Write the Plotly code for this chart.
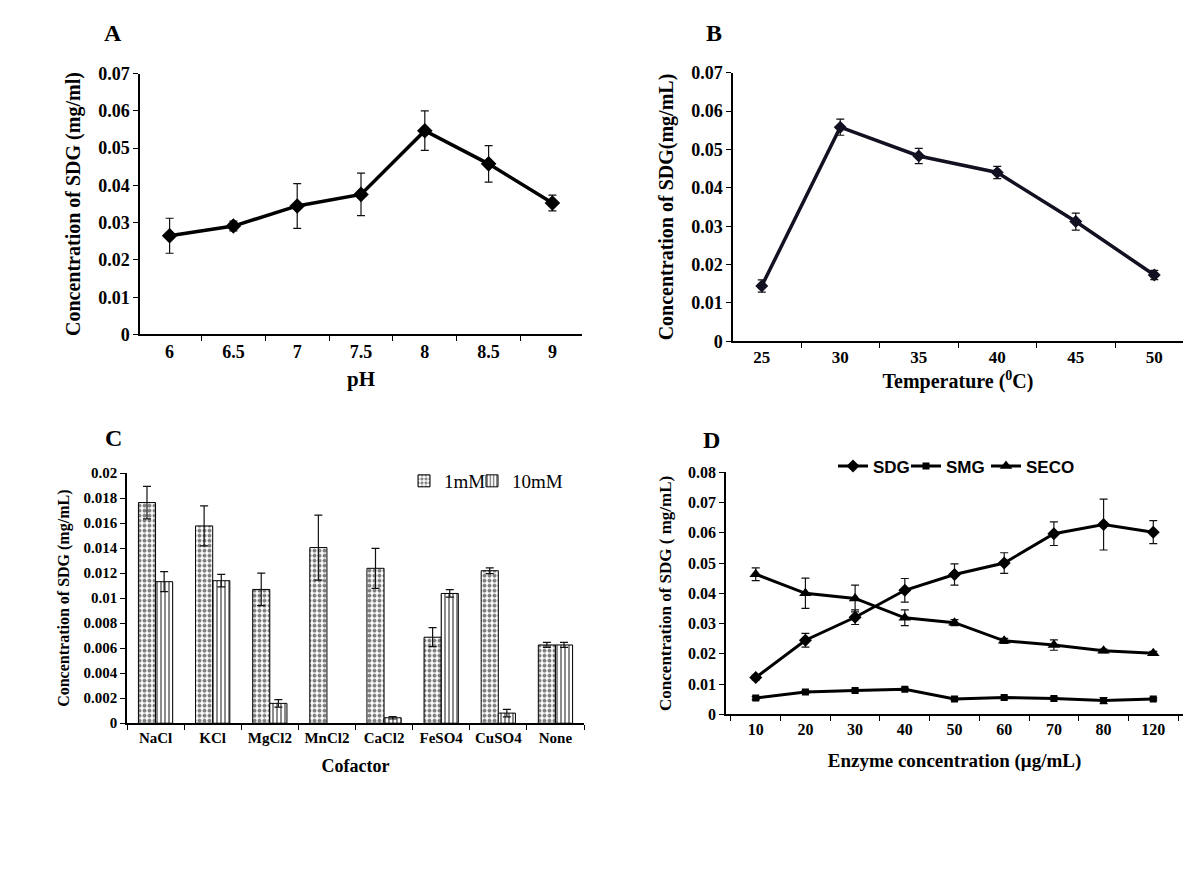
import plotly.graph_objects as go

# A: pH
ph_labels = ["6", "6.5", "7", "7.5", "8", "8.5", "9"]
ph_sdg = [0.0265, 0.0291, 0.0345, 0.0376, 0.0547, 0.0458, 0.0353]
ph_err = [0.0047, 0.0013, 0.0060, 0.0057, 0.0053, 0.0049, 0.0021]

# B: temperature
temp_labels = ["25", "30", "35", "40", "45", "50"]
temp_sdg = [0.0144, 0.0558, 0.0483, 0.0440, 0.0312, 0.0173]
temp_err = [0.0016, 0.0021, 0.0020, 0.0016, 0.0022, 0.0012]

# C: cofactors
cofactors = ["NaCl", "KCl", "MgCl2", "MnCl2", "CaCl2", "FeSO4", "CuSO4", "None"]
mm1 = [0.01765, 0.01578, 0.0107, 0.01405, 0.01239, 0.00688, 0.0122, 0.00626]
mm1_err = [0.0013, 0.0016, 0.0013, 0.0026, 0.0016, 0.00076, 0.00023, 0.0002]
mm10 = [0.01132, 0.0114, 0.00159, None, 0.00044, 0.01038, 0.00081, 0.00626]
mm10_err = [0.0008, 0.0005, 0.0003, 0, 0.0001, 0.0003, 0.0003, 0.0002]

# D: enzyme concentration
enzyme = ["10", "20", "30", "40", "50", "60", "70", "80", "120"]
sdg = [0.0122, 0.0245, 0.0321, 0.0410, 0.0462, 0.0500, 0.0597, 0.0627, 0.0602]
sdg_err = [0.0008, 0.0023, 0.0024, 0.0039, 0.0035, 0.0034, 0.0039, 0.0084, 0.0038]
smg = [0.0054, 0.0074, 0.0079, 0.0083, 0.0051, 0.0056, 0.0053, 0.0046, 0.0051]
smg_err = [0.0005, 0.0004, 0.0004, 0.0004, 0.0004, 0.0004, 0.0004, 0.0010, 0.0004]
seco = [0.0463, 0.0400, 0.0383, 0.0319, 0.0303, 0.0243, 0.0229, 0.0210, 0.0202]
seco_err = [0.0021, 0.0050, 0.0044, 0.0026, 0.0010, 0.0008, 0.0017, 0.0006, 0.0006]

# the page body has an 8px margin, so the figure is a bit smaller than the window
OFF = 8
W, H = 1200 - 2 * OFF, 877 - 2 * OFF
SERIF = "Liberation Serif"


def err(arr):
    return dict(type="data", array=arr, visible=True, color="#111", thickness=1.2, width=4)


def fx(px):
    return (px - OFF) / W


def fy(py):
    return 1 - (py - OFF) / H


def px_x(a, b):
    return [fx(a), fx(b)]


def px_y(top, bottom):
    return [fy(bottom), fy(top)]


fig = go.Figure()

fig.add_trace(go.Scatter(
    x=ph_labels, y=ph_sdg, error_y=err(ph_err), mode="lines+markers",
    line=dict(color="black", width=3.5), marker=dict(symbol="diamond", size=12, color="black"),
    xaxis="x", yaxis="y", showlegend=False,
))
fig.add_trace(go.Scatter(
    x=temp_labels, y=temp_sdg, error_y=err(temp_err), mode="lines+markers",
    line=dict(color="#111122", width=3.5), marker=dict(symbol="diamond", size=10, color="#111122"),
    xaxis="x2", yaxis="y2", showlegend=False,
))
fig.add_trace(go.Bar(
    x=cofactors, y=mm1, error_y=err(mm1_err), name="1mM",
    marker=dict(color="white", line=dict(color="black", width=1),
                pattern=dict(shape=".", size=5, solidity=0.5, fgcolor="black", bgcolor="white")),
    xaxis="x3", yaxis="y3", legend="legend2",
))
fig.add_trace(go.Bar(
    x=cofactors, y=mm10, error_y=err(mm10_err), name="10mM",
    marker=dict(color="white", line=dict(color="black", width=1),
                pattern=dict(shape="|", size=4, solidity=0.45, fgcolor="black", bgcolor="white")),
    xaxis="x3", yaxis="y3", legend="legend3",
))
for name, vals, errs, sym, size, leg in [
    ("SDG", sdg, sdg_err, "diamond", 10, "legend"),
    ("SMG", smg, smg_err, "square", 7, "legend4"),
    ("SECO", seco, seco_err, "triangle-up", 11, "legend5"),
]:
    fig.add_trace(go.Scatter(
        x=enzyme, y=vals, error_y=err(errs), mode="lines+markers", name=name,
        line=dict(color="black", width=3), marker=dict(symbol=sym, size=size, color="black"),
        xaxis="x4", yaxis="y4", legend=leg,
    ))


def xax(domain, anchor, title, tsize, fsize, standoff):
    return dict(
        domain=domain, anchor=anchor, type="category", tickson="boundaries",
        ticks="outside", ticklen=5, tickwidth=1.2, tickcolor="black",
        showline=True, linecolor="black", linewidth=1.5, showgrid=False, zeroline=False,
        tickfont=dict(family=SERIF, size=tsize, color="black", weight="bold"),
        title=dict(text=title, font=dict(family=SERIF, size=fsize, color="black", weight="bold"),
                   standoff=standoff),
    )


def yax(domain, anchor, rng, dtick, title, tsize, fsize, standoff):
    return dict(
        domain=domain, anchor=anchor, range=rng, dtick=dtick, tick0=0,
        ticks="outside", ticklen=5, tickwidth=1.2, tickcolor="black",
        showline=True, linecolor="black", linewidth=1.5, showgrid=False, zeroline=False,
        tickfont=dict(family=SERIF, size=tsize, color="black", weight="bold"),
        title=dict(text=title, font=dict(family=SERIF, size=fsize, color="black", weight="bold"),
                   standoff=standoff),
    )


c_legend = dict(orientation="h", xanchor="left", yanchor="middle", y=fy(482),
                font=dict(family=SERIF, size=19, color="black"),
                itemwidth=30, bgcolor="rgba(0,0,0,0)")
d_legend = dict(orientation="h", xanchor="left", yanchor="middle", y=fy(467),
                font=dict(family="Liberation Sans Narrow, Liberation Sans", size=17,
                          color="black", weight="bold"),
                itemwidth=30, bgcolor="rgba(0,0,0,0)")

fig.update_layout(
    width=W, height=H, margin=dict(l=0, r=0, t=0, b=0),
    paper_bgcolor="white", plot_bgcolor="white",
    barmode="group", bargap=0.4, bargroupgap=0,
    xaxis=xax(px_x(140, 582), "y", "pH", 18, 21, 10),
    yaxis=yax(px_y(65, 332), "x", [0, 0.07], 0.01, "Concentration of SDG (mg/ml)", 18, 20, 12),
    xaxis2=xax(px_x(733, 1183), "y2", "Temperature (<sup>0</sup>C)", 17, 20, 8),
    yaxis2=yax(px_y(64, 339), "x2", [0, 0.07], 0.01, "Concentration of SDG(mg/mL)", 18, 20, 12),
    xaxis3=xax(px_x(127, 584), "y3", "Cofactor", 15, 18, 14),
    yaxis3=yax(px_y(474, 730), "x3", [0, 0.02], 0.002, "Concentration of SDG (mg/mL)", 15, 16, 10),
    xaxis4=xax(px_x(726, 1183), "y4", "Enzyme concentration (μg/mL)", 16, 19, 16),
    yaxis4=yax(px_y(473, 721), "x4", [0, 0.08], 0.01, "Concentration of SDG ( mg/mL)", 16, 17, 12),
    legend=dict(d_legend, x=fx(833)),
    legend4=dict(d_legend, x=fx(906)),
    legend5=dict(d_legend, x=fx(986)),
    legend2=dict(c_legend, x=fx(404)),
    legend3=dict(c_legend, x=fx(472)),
)

for letter, x, y in [("A", 113, 23), ("B", 714, 23), ("C", 113, 438), ("D", 711, 440)]:
    fig.add_annotation(text=letter, x=fx(x), y=fy(y), xref="paper", yref="paper",
                       showarrow=False, xanchor="center", yanchor="middle",
                       font=dict(family=SERIF, size=24, color="black", weight="bold"))

# scan edge lines at the right border
for y0, y1 in [(50, 400), (462, 497)]:
    fig.add_shape(type="line", xref="paper", yref="paper", x0=fx(1197), x1=fx(1197),
                  y0=fy(y1), y1=fy(y0), line=dict(color="#c8c8c8", width=1.5))

fig.write_html("out.html")
